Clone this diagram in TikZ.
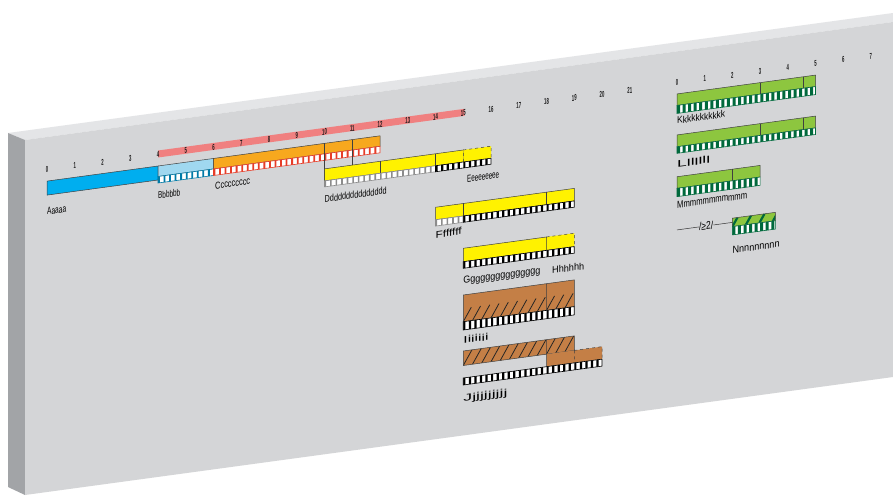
\documentclass[tikz,border=0pt]{standalone}
\usepackage{fontspec}
\setsansfont{Liberation Sans}
\usepackage{graphicx}
\definecolor{panel}{RGB}{212,213,215}
\definecolor{panelside}{RGB}{162,164,167}
\definecolor{paneltop}{RGB}{228,229,231}
\definecolor{cblue}{RGB}{0,174,239}
\definecolor{clblue}{RGB}{160,216,240}
\definecolor{corange}{RGB}{247,168,30}
\definecolor{cred}{RGB}{230,60,40}
\definecolor{csalmon}{RGB}{240,128,128}
\definecolor{cyellow}{RGB}{255,242,0}
\definecolor{cbrown}{RGB}{196,127,70}
\definecolor{cgreen}{RGB}{141,198,63}
\definecolor{cdgreen}{RGB}{0,105,60}
\newcommand\lx[1]{47+#1*27.75}
\newcommand\rx[1]{677+#1*27.7}
\newcommand\ladder[6]{%
  \fill[white] (#1,#3) rectangle (#2,#4);
  \pgfmathtruncatemacro\nn{round(((#2)-(#1))/5.55)-1}
  \foreach \i in {0,...,\nn}{\fill[#5] ({#1+\i*5.55},#3) rectangle ++(#6,{(#4)-(#3)});}
  \draw[#5,line width=0.6pt] (#1,#3) rectangle (#2,#4);
}
\newcommand\hatch[7]{%
  \begin{scope}
   \clip (#1,#3) rectangle (#2,#4);
   \pgfmathsetmacro\hh{(#4)-(#3)}
   \foreach \k in {-2,...,20} {\draw[#5, line width=#6] ({#1+\k*#7},#4) -- ++({0.6*\hh},-\hh);}
  \end{scope}
}
\tikzset{
  outl/.style={draw=black!75, line width=0.5pt},
  num/.style={font=\sffamily\bfseries\fontsize{8.5}{8.5}\selectfont, xscale=0.5, transform shape, inner sep=0pt, text=black!90},
  lbl/.style={anchor=west, inner sep=0pt, transform shape},
}
\newcommand\tlabel[4]{\node[lbl] (#1) at (#2) {\resizebox{#3pt}{7pt}{\sffamily #4}};}
\begin{document}
\begin{tikzpicture}[x=1pt,y=-1pt]
\useasboundingbox (0,0) rectangle (893,495);
\fill[white] (0,0) rectangle (893,495);
% panel
\fill[paneltop] (8,133) -- (893,13) -- (893,22) -- (25,140) -- cycle;
\fill[panelside] (8,133) -- (25,140) -- (25,495) -- (8,487) -- cycle;
\fill[panel] (25,140) -- (893,22) -- (893,377) -- (25,495) -- cycle;
\begin{scope}[yslant=0.136]
% red bar and rulers
\fill[csalmon] (\lx{4},172) rectangle (\lx{15.05},179);
\foreach \n in {0,...,21} {\node[num] (ln\n) at (\lx{\n},176) {\n};}
\foreach \n in {0,...,7} {\node[num] (rn\n) at (\rx{\n},174.5) {\n};}
% Aaaaa
\filldraw[fill=cblue, outl] (\lx{0},187.5) rectangle (\lx{4},201.5);
% Bbbbb
\filldraw[fill=clblue, outl] (\lx{4},187.5) rectangle (\lx{6},198);
\ladder{\lx{4}}{\lx{6}}{198}{204.5}{cblue!70!black}{1.8}
% Ccccc
\filldraw[fill=corange, outl] (\lx{6},187.5) rectangle (\lx{12},198);
\ladder{\lx{6}}{\lx{12}}{198}{204.5}{cred}{1.8}
\draw[black!75, line width=0.5pt] (\lx{10},187.5) -- (\lx{10},231) (\lx{11},187.5) -- (\lx{11},231);
% Ddddd / Eeeee
\filldraw[fill=cyellow, outl] (\lx{10},213) rectangle (\lx{15},225);
\fill[cyellow] (\lx{15},213) rectangle (\lx{16},225);
\draw[black!75, line width=0.5pt, dashed] (\lx{15},225) -- (\lx{15},213) -- (\lx{16},213) -- (\lx{16},225);
\draw[black!75, line width=0.5pt] (\lx{12},213) -- (\lx{12},225) (\lx{14},213) -- (\lx{14},225);
\ladder{\lx{10}}{\lx{14}}{225}{231}{black!45}{1.6}
\ladder{\lx{14}}{\lx{16}}{225}{231}{black}{2.2}
% Fffff
\filldraw[fill=cyellow, outl] (\lx{14},266.5) rectangle (\lx{19},279);
\draw[black!75, line width=0.5pt] (\lx{15},266.5) -- (\lx{15},279) (\lx{18},266.5) -- (\lx{18},279);
\ladder{\lx{14}}{\lx{15}}{279}{285.3}{black!45}{1.6}
\ladder{\lx{15}}{\lx{19}}{279}{285.3}{black}{2.2}
% Ggggg / Hhhhh
\fill[cyellow] (\lx{15},311.3) rectangle (\lx{19},324.7);
\draw[black!75, line width=0.5pt] (\lx{18},311.3) -- (\lx{15},311.3) -- (\lx{15},324.7) -- (\lx{19},324.7) (\lx{18},311.3) -- (\lx{18},324.7);
\draw[black!75, line width=0.5pt, dashed] (\lx{18},311.3) -- (\lx{19},311.3) -- (\lx{19},324.7);
\ladder{\lx{15}}{\lx{19}}{324.7}{331.3}{black}{2.2}
% Iiiii
\fill[cbrown] (\lx{15},358) rectangle (\lx{19},384.7);
\hatch{\lx{15}}{\lx{19}}{371.3}{384.7}{black!85}{0.8pt}{9.25}
\draw[black!75, line width=0.5pt] (\lx{15},358) rectangle (\lx{19},384.7) (\lx{18},358) -- (\lx{18},384.7);
\ladder{\lx{15}}{\lx{19}}{384.7}{393}{black}{2.2}
% Jjjjj
\fill[cbrown] (\lx{15},414) rectangle (\lx{19},428.5);
\hatch{\lx{15}}{\lx{19}}{414}{428.5}{black!85}{0.8pt}{9.25}
\draw[black!75, line width=0.5pt] (\lx{15},414) rectangle (\lx{19},428.5) (\lx{18},414) -- (\lx{18},428.5);
\fill[cbrown] (\lx{18},428.5) rectangle (\lx{20},441);
\draw[black!75, line width=0.5pt] (\lx{19},441) -- (\lx{18},441) -- (\lx{18},428.5);
\draw[black!75, line width=0.5pt, dashed] (\lx{19},428.5) -- (\lx{20},428.5) -- (\lx{20},441) -- (\lx{19},441) (\lx{19},428.5) -- (\lx{19},441);
\ladder{\lx{15}}{\lx{20}}{441}{448}{black}{2.2}
% Kkkkk
\filldraw[fill=cgreen, outl] (\rx{0},186) rectangle (\rx{5},197.5);
\draw[black!75, line width=0.5pt] (\rx{3},186) -- (\rx{3},197.5) (\rx{4.55},186) -- (\rx{4.55},197.5);
\ladder{\rx{0}}{\rx{5}}{197.5}{205.5}{cdgreen}{3}
% Lllll
\filldraw[fill=cgreen, outl] (\rx{0},227) rectangle (\rx{5},238.8);
\draw[black!75, line width=0.5pt] (\rx{3},227) -- (\rx{3},238.8) (\rx{4.55},227) -- (\rx{4.55},238.8);
\ladder{\rx{0}}{\rx{5}}{238.8}{245.4}{cdgreen}{3}
% Mmmmm
\filldraw[fill=cgreen, outl] (\rx{0},268.8) rectangle (\rx{3},280.4);
\draw[black!75, line width=0.5pt] (\rx{2},268.8) -- (\rx{2},280.4);
\ladder{\rx{0}}{\rx{3}}{280.4}{288.7}{cdgreen}{3}
% Nnnnn
\fill[cgreen] (\rx{2},317.8) rectangle (\rx{3.55},326.2);
\hatch{\rx{2}}{\rx{3.55}}{317.8}{326.2}{cdgreen}{2.2pt}{13.5}
\draw[black!75, line width=0.5pt] (\rx{2},317.8) rectangle (\rx{3.55},326.2);
\ladder{\rx{2}}{\rx{3.55}}{326.2}{334.5}{cdgreen}{3}
\node[lbl, anchor=center] (ge2) at (\rx{1.05},322) {\resizebox{14pt}{8pt}{\sffamily /≥2/}};
\coordinate (nl) at (\rx{0},322);
\coordinate (nr) at (\rx{2},322);
\draw[black!80, line width=0.5pt] (nl) -- (ge2.west) (ge2.east) -- (nr);
% labels
\tlabel{la}{\lx{0},217.7}{19}{Aaaaa}
\tlabel{lb}{\lx{4},217}{22}{Bbbbbb}
\tlabel{lc}{215,215}{35}{Ccccccccc}
\tlabel{ld}{\lx{10},243}{62}{Ddddddddddddddd}
\tlabel{le}{467,242.4}{32}{Eeeeeeeee}
\tlabel{lf}{\lx{14},293.8}{26}{Fffffff}
\tlabel{lg}{\lx{15},344.4}{77}{Ggggggggggggggg}
\tlabel{lh}{552,345.4}{32}{Hhhhhh}
\tlabel{li}{\lx{15},403}{25}{Iiiiiii}
\tlabel{lj}{\lx{15},462}{44}{Jjjjjjjjjj}
\tlabel{lk}{\rx{0},212.5}{48}{Kkkkkkkkkkk}
\tlabel{ll}{\rx{0},256}{33}{Lllllll}
\tlabel{lm}{\rx{0},296.6}{70}{Mmmmmmmmmmm}
\tlabel{lnn}{\rx{2},349.7}{47}{Nnnnnnnnn}
\end{scope}
\end{tikzpicture}
\end{document}
